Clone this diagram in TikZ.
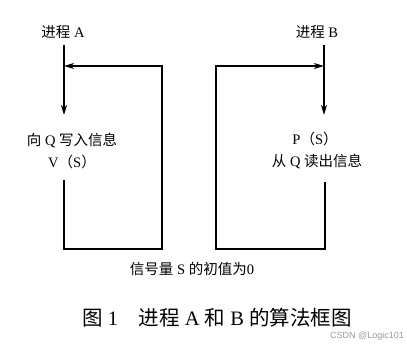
\documentclass[tikz,border=0pt]{standalone}
\usepackage{fontspec}
\setmainfont{Liberation Serif}
\newfontfamily\cjk{Noto Sans CJK SC}
\newfontfamily\wmfont{Liberation Sans}
\usetikzlibrary{arrows.meta, positioning}

\begin{document}
\begin{tikzpicture}[
        x=1pt, y=-1pt, >={Stealth[length=10pt, width=6pt, inset=3pt]},
        flow/.style={line width=1.2pt, line cap=rect},
        lab/.style={font=\fontsize{14.5}{17}\selectfont, inner sep=1pt},
        figcap/.style={font=\fontsize{20.5}{24}\selectfont, inner sep=1pt},
        wm/.style={font=\wmfont\fontsize{9}{10}\selectfont, text=black!40, inner sep=0pt},
      ]
        \useasboundingbox (0,0) rectangle (407,347);
        % --- 进程 A ---
        \node[lab] (procA) at (63,32) {{\cjk 进程} A};
        \node[lab] (writeQ) at (72,141) {{\cjk 向} Q {\cjk 写入信息}};
        \node[lab] (vS) at (72,162) {V{\cjk （}S{\cjk ）}};
        \coordinate (aTop) at (64,46);
        \coordinate (aTip) at (64,115);
        \coordinate (aLoop) at (64,181);
        \coordinate (aJoin) at (64,66);
        \draw[flow, ->] (aTop) -- (aTip);
        \draw[flow, ->] (aLoop) |- (162,249) |- (aJoin);
        % --- 进程 B ---
        \node[lab] (procB) at (317,32) {{\cjk 进程} B};
        \node[lab] (pS) at (315,139) {P{\cjk （}S{\cjk ）}};
        \node[lab] (readQ) at (317,162) {{\cjk 从} Q {\cjk 读出信息}};
        \coordinate (bTop) at (324,46);
        \coordinate (bTip) at (324,115);
        \coordinate (bLoop) at (325,183);
        \coordinate (bJoin) at (324,66);
        \draw[flow, ->] (bTop) -- (bTip);
        \draw[flow, ->] (bLoop) |- (216,249) |- (bJoin);
        % --- 说明与图题 ---
        \node[lab] (init) at (192,269) {{\cjk 信号量} S {\cjk 的初值为}0};
        \node[figcap] (title) at (217,318) {{\cjk 图} 1{\cjk 　进程} A {\cjk 和} B {\cjk 的算法框图}};
        \node[wm, anchor=east] (mark) at (404,336) {CSDN @Logic101};
      \end{tikzpicture}
\end{document}
